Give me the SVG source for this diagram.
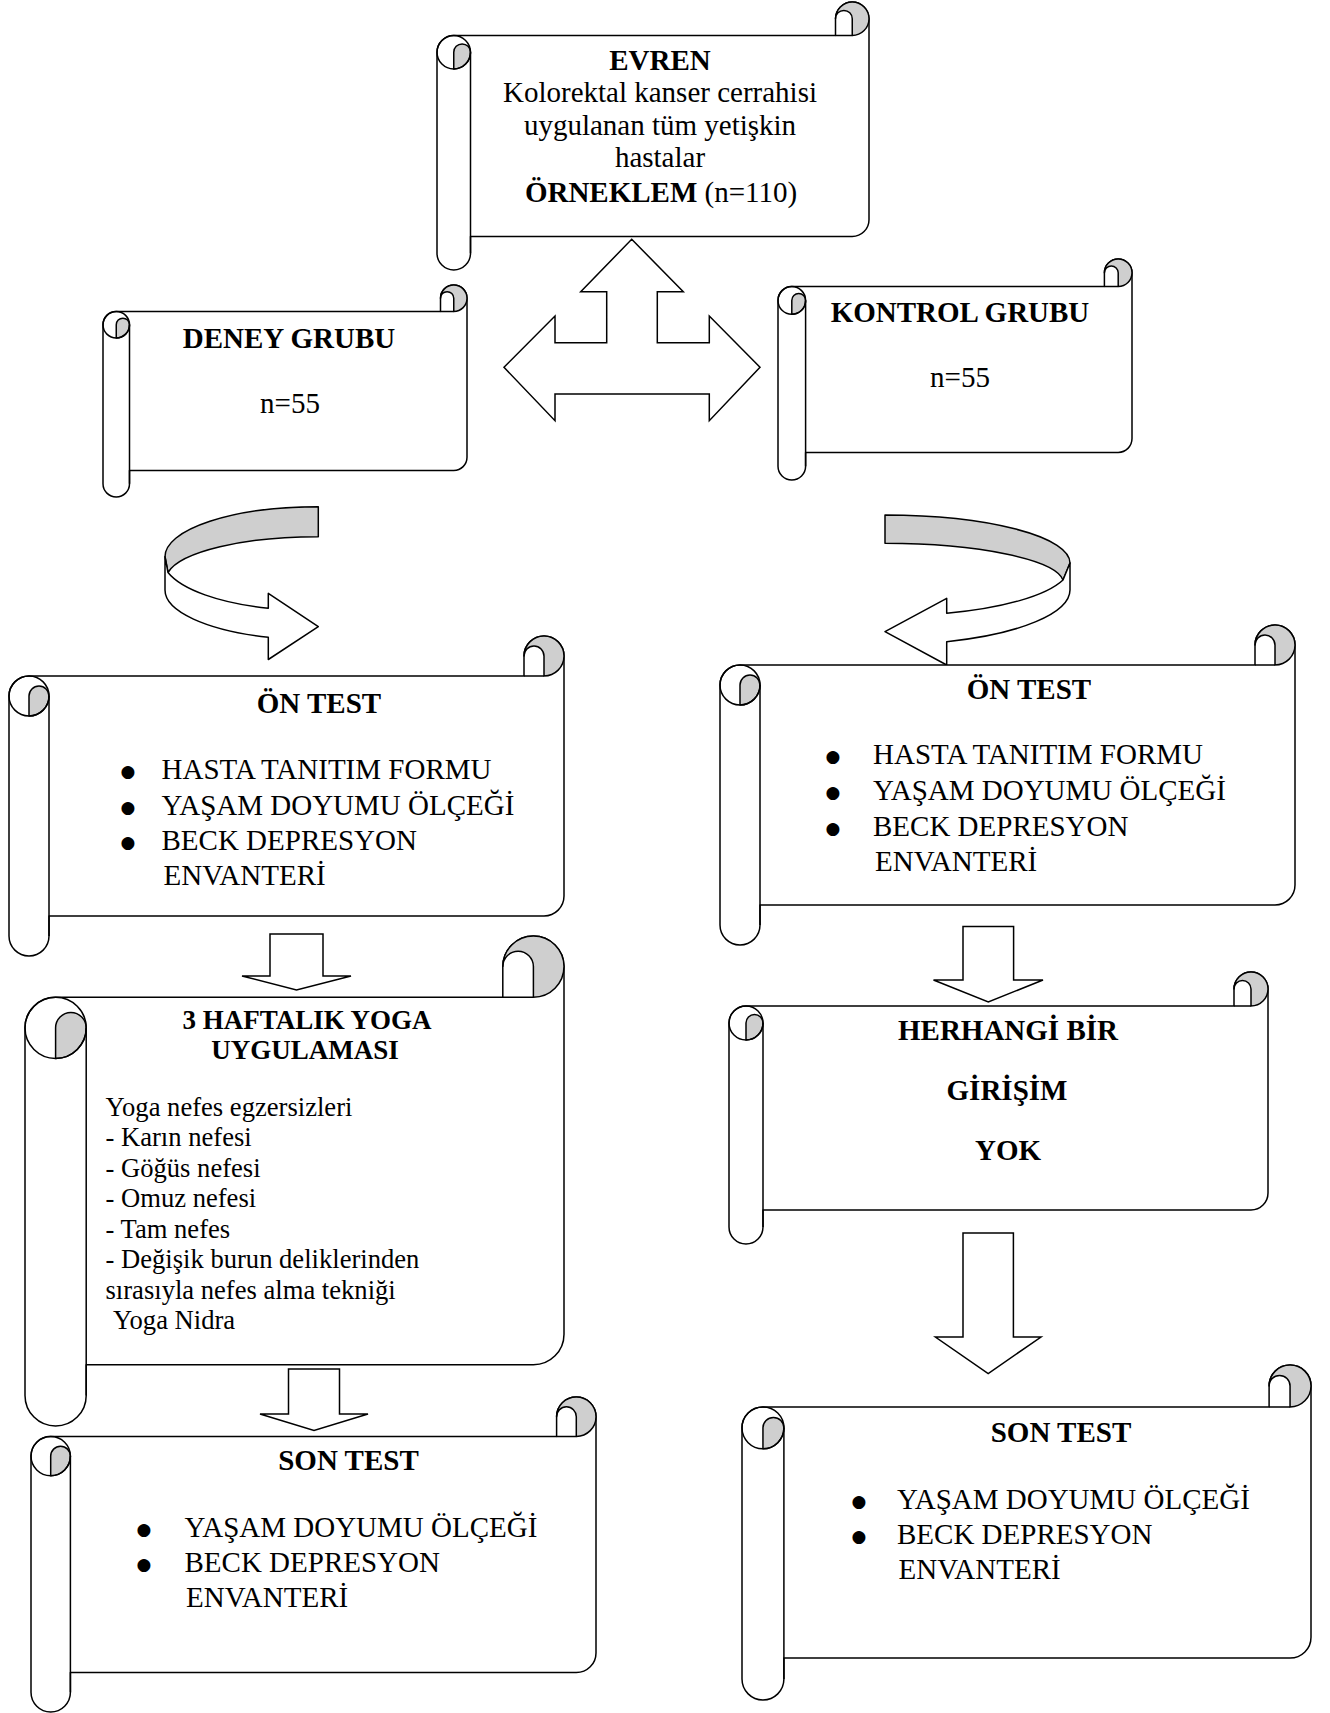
<svg xmlns="http://www.w3.org/2000/svg" width="1330" height="1713" viewBox="0 0 1330 1713">
<style>
.bg{fill:#fff}
.m{fill:#fff;stroke:#000;stroke-width:1.5;stroke-linejoin:round}
.g{fill:#cfcfcf;stroke:#000;stroke-width:1.5;stroke-linejoin:round}
.l{fill:none;stroke:#000;stroke-width:1.5}
.ar{fill:#fff;stroke:#000;stroke-width:1.5;stroke-linejoin:miter}
text{font-family:"Liberation Serif","Times New Roman",serif;font-size:29px;fill:#000}
.b{font-weight:bold}
.c{text-anchor:middle}
.s{font-size:26.6px}
.tb{font-size:27px;font-weight:bold;text-anchor:middle}
.bu{font-family:"DejaVu Sans",sans-serif;font-size:17px;text-anchor:middle}
</style>
<rect class="bg" x="0" y="0" width="1330" height="1713"/>

<g id="connectors">
  <path class="ar" d="M631.7,239.3 L683.3,291.7 L657.3,291.7 L657.3,342.7 L709.3,342.7 L709.3,316 L760,367.3 L709.3,420.7 L709.3,394 L555,394 L555,420.7 L504,367.3 L555,316 L555,342.7 L606.7,342.7 L606.7,291.7 L580.7,291.7 Z"/>
  <g id="curved-left">
    <path class="g" d="M318.3,506.7 A153 50 0 0 0 165,556.7 L168,572.5 A152 43 0 0 1 318.3,536.7 Z"/>
    <path class="m" d="M165,556.7 L165,590 A153 50 0 0 0 268.3,637.3 L268.3,659.5 L318.3,626.7 L268.3,593.3 L268.3,608.3 A150 52 0 0 1 168,572.5 Z"/>
  </g>
  <g id="curved-right">
    <path class="g" d="M885,515 A185 48 0 0 1 1070,563 L1063,580 A180 40 0 0 0 885,543.3 Z"/>
    <path class="m" d="M1070,563 L1070,590 A185 55 0 0 1 946.7,641.7 L946.7,665 L885,631.7 L946.7,598.3 L946.7,613.3 A180 50 0 0 0 1063,580 Z"/>
  </g>
  <path class="ar" d="M270,934 L323,934 L323,976 L351,976 L296.5,990 L242,976 L270,976 Z"/>
  <path class="ar" d="M288.5,1369 L339.5,1369 L339.5,1414 L368,1414 L314,1430.5 L260,1414 L288.5,1414 Z"/>
  <path class="ar" d="M963,926.5 L1013.6,926.5 L1013.6,980 L1043,980 L988.3,1002 L933.5,980 L963,980 Z"/>
  <path class="ar" d="M963,1233 L1013.4,1233 L1013.4,1337 L1041,1337 L988.2,1373.5 L935.4,1337 L963,1337 Z"/>
</g>

<g id="evren">
  <path class="m" d="M437,52.25 A16.75 16.75 0 0 1 453.75,35.5 L835.5,35.5 L835.5,18.75 A16.75 16.75 0 0 1 869,18.75 L869,219.75 A16.75 16.75 0 0 1 852.25,236.5 L470.5,236.5 L470.5,253.25 A16.75 16.75 0 0 1 437,253.25 Z"/>
  <path class="g" d="M453.75,69 L453.75,52.25 A8.375 8.375 0 0 1 470.5,52.25 A16.75 16.75 0 0 1 453.75,69 Z"/>
  <path class="g" d="M852.25,35.5 A16.75 16.75 0 0 0 869,18.75 A16.75 16.75 0 0 0 835.5,18.75 A8.375 8.375 0 0 1 852.25,18.75 Z"/>
  <path class="l" d="M470.5,52.25 L470.5,253.25 M835.5,35.5 L852.25,35.5"/>
  <circle class="l" cx="453.75" cy="52.25" r="16.75"/>
  <text class="c b" x="660" y="70">EVREN</text>
  <text class="c" x="660" y="102">Kolorektal kanser cerrahisi</text>
  <text class="c" x="660" y="134.5">uygulanan tüm yetişkin</text>
  <text class="c" x="660" y="167">hastalar</text>
  <text class="c" x="661" y="201.5"><tspan class="b">ÖRNEKLEM</tspan> (n=110)</text>
</g>

<g id="deney">
  <path class="m" d="M103,324.75 A13.25 13.25 0 0 1 116.25,311.5 L440.5,311.5 L440.5,298.25 A13.25 13.25 0 0 1 467,298.25 L467,457.25 A13.25 13.25 0 0 1 453.75,470.5 L129.5,470.5 L129.5,483.75 A13.25 13.25 0 0 1 103,483.75 Z"/>
  <path class="g" d="M116.25,338 L116.25,324.75 A6.625 6.625 0 0 1 129.5,324.75 A13.25 13.25 0 0 1 116.25,338 Z"/>
  <path class="g" d="M453.75,311.5 A13.25 13.25 0 0 0 467,298.25 A13.25 13.25 0 0 0 440.5,298.25 A6.625 6.625 0 0 1 453.75,298.25 Z"/>
  <path class="l" d="M129.5,324.75 L129.5,483.75 M440.5,311.5 L453.75,311.5"/>
  <circle class="l" cx="116.25" cy="324.75" r="13.25"/>
  <text class="c b" x="289" y="348">DENEY GRUBU</text>
  <text class="c" x="290" y="413">n=55</text>
</g>

<g id="kontrol">
  <path class="m" d="M778,300.4 A13.8 13.8 0 0 1 791.8,286.6 L1104.4,286.6 L1104.4,272.8 A13.8 13.8 0 0 1 1132,272.8 L1132,438.6 A13.8 13.8 0 0 1 1118.2,452.4 L805.6,452.4 L805.6,466.2 A13.8 13.8 0 0 1 778,466.2 Z"/>
  <path class="g" d="M791.8,314.2 L791.8,300.4 A6.9 6.9 0 0 1 805.6,300.4 A13.8 13.8 0 0 1 791.8,314.2 Z"/>
  <path class="g" d="M1118.2,286.6 A13.8 13.8 0 0 0 1132,272.8 A13.8 13.8 0 0 0 1104.4,272.8 A6.9 6.9 0 0 1 1118.2,272.8 Z"/>
  <path class="l" d="M805.6,300.4 L805.6,466.2 M1104.4,286.6 L1118.2,286.6"/>
  <circle class="l" cx="791.8" cy="300.4" r="13.8"/>
  <text class="c b" x="960" y="322">KONTROL GRUBU</text>
  <text class="c" x="960" y="387">n=55</text>
</g>

<g id="on-test-deney">
  <path class="m" d="M9,696 A20 20 0 0 1 29,676 L524,676 L524,656 A20 20 0 0 1 564,656 L564,896 A20 20 0 0 1 544,916 L49,916 L49,936 A20 20 0 0 1 9,936 Z"/>
  <path class="g" d="M29,716 L29,696 A10 10 0 0 1 49,696 A20 20 0 0 1 29,716 Z"/>
  <path class="g" d="M544,676 A20 20 0 0 0 564,656 A20 20 0 0 0 524,656 A10 10 0 0 1 544,656 Z"/>
  <path class="l" d="M49,696 L49,936 M524,676 L544,676"/>
  <circle class="l" cx="29" cy="696" r="20"/>
  <text class="c b" x="319" y="713">ÖN TEST</text>
  <text class="bu" x="128" y="777">●</text>
  <text class="bu" x="128" y="813">●</text>
  <text class="bu" x="128" y="848">●</text>
  <text x="161.5" y="779">HASTA TANITIM FORMU</text>
  <text x="161.5" y="815">YAŞAM DOYUMU ÖLÇEĞİ</text>
  <text x="161.5" y="850">BECK DEPRESYON</text>
  <text x="163.5" y="885">ENVANTERİ</text>
</g>

<g id="on-test-kontrol">
  <path class="m" d="M720,685 A20 20 0 0 1 740,665 L1255,665 L1255,645 A20 20 0 0 1 1295,645 L1295,885 A20 20 0 0 1 1275,905 L760,905 L760,925 A20 20 0 0 1 720,925 Z"/>
  <path class="g" d="M740,705 L740,685 A10 10 0 0 1 760,685 A20 20 0 0 1 740,705 Z"/>
  <path class="g" d="M1275,665 A20 20 0 0 0 1295,645 A20 20 0 0 0 1255,645 A10 10 0 0 1 1275,645 Z"/>
  <path class="l" d="M760,685 L760,925 M1255,665 L1275,665"/>
  <circle class="l" cx="740" cy="685" r="20"/>
  <text class="c b" x="1029" y="699">ÖN TEST</text>
  <text class="bu" x="833" y="762">●</text>
  <text class="bu" x="833" y="798">●</text>
  <text class="bu" x="833" y="834">●</text>
  <text x="873" y="764">HASTA TANITIM FORMU</text>
  <text x="873" y="800">YAŞAM DOYUMU ÖLÇEĞİ</text>
  <text x="873" y="836">BECK DEPRESYON</text>
  <text x="875" y="871">ENVANTERİ</text>
</g>

<g id="yoga">
  <path class="m" d="M25,1027.8 A30.6 30.6 0 0 1 55.6,997.2 L502.8,997.2 L502.8,966.6 A30.6 30.6 0 0 1 564,966.6 L564,1334.2 A30.6 30.6 0 0 1 533.4,1364.8 L86.2,1364.8 L86.2,1395.4 A30.6 30.6 0 0 1 25,1395.4 Z"/>
  <path class="g" d="M55.6,1058.4 L55.6,1027.8 A15.3 15.3 0 0 1 86.2,1027.8 A30.6 30.6 0 0 1 55.6,1058.4 Z"/>
  <path class="g" d="M533.4,997.2 A30.6 30.6 0 0 0 564,966.6 A30.6 30.6 0 0 0 502.8,966.6 A15.3 15.3 0 0 1 533.4,966.6 Z"/>
  <path class="l" d="M86.2,1027.8 L86.2,1395.4 M502.8,997.2 L533.4,997.2"/>
  <circle class="l" cx="55.6" cy="1027.8" r="30.6"/>
  <text class="tb" x="307" y="1029">3 HAFTALIK YOGA</text>
  <text class="tb" x="305" y="1059">UYGULAMASI</text>
  <text class="s" x="105.5" y="1115.5">Yoga nefes egzersizleri</text>
  <text class="s" x="105.5" y="1146">- Karın nefesi</text>
  <text class="s" x="105.5" y="1176.5">- Göğüs nefesi</text>
  <text class="s" x="105.5" y="1207">- Omuz nefesi</text>
  <text class="s" x="105.5" y="1237.5">- Tam nefes</text>
  <text class="s" x="105.5" y="1268">- Değişik burun deliklerinden</text>
  <text class="s" x="105.5" y="1298.5">sırasıyla nefes alma tekniği</text>
  <text class="s" x="113" y="1329">Yoga Nidra</text>
</g>

<g id="herhangi">
  <path class="m" d="M729,1023 A17 17 0 0 1 746,1006 L1234,1006 L1234,989 A17 17 0 0 1 1268,989 L1268,1193 A17 17 0 0 1 1251,1210 L763,1210 L763,1227 A17 17 0 0 1 729,1227 Z"/>
  <path class="g" d="M746,1040 L746,1023 A8.5 8.5 0 0 1 763,1023 A17 17 0 0 1 746,1040 Z"/>
  <path class="g" d="M1251,1006 A17 17 0 0 0 1268,989 A17 17 0 0 0 1234,989 A8.5 8.5 0 0 1 1251,989 Z"/>
  <path class="l" d="M763,1023 L763,1227 M1234,1006 L1251,1006"/>
  <circle class="l" cx="746" cy="1023" r="17"/>
  <text class="c b" x="1008" y="1040">HERHANGİ BİR</text>
  <text class="c b" x="1007" y="1100">GİRİŞİM</text>
  <text class="c b" x="1008" y="1160">YOK</text>
</g>

<g id="son-test-deney">
  <path class="m" d="M31,1456.1 A19.7 19.7 0 0 1 50.7,1436.4 L556.6,1436.4 L556.6,1416.7 A19.7 19.7 0 0 1 596,1416.7 L596,1652.9 A19.7 19.7 0 0 1 576.3,1672.6 L70.4,1672.6 L70.4,1692.3 A19.7 19.7 0 0 1 31,1692.3 Z"/>
  <path class="g" d="M50.7,1475.8 L50.7,1456.1 A9.85 9.85 0 0 1 70.4,1456.1 A19.7 19.7 0 0 1 50.7,1475.8 Z"/>
  <path class="g" d="M576.3,1436.4 A19.7 19.7 0 0 0 596,1416.7 A19.7 19.7 0 0 0 556.6,1416.7 A9.85 9.85 0 0 1 576.3,1416.7 Z"/>
  <path class="l" d="M70.4,1456.1 L70.4,1692.3 M556.6,1436.4 L576.3,1436.4"/>
  <circle class="l" cx="50.7" cy="1456.1" r="19.7"/>
  <text class="c b" x="348.5" y="1470">SON TEST</text>
  <text class="bu" x="144" y="1535">●</text>
  <text class="bu" x="144" y="1570">●</text>
  <text x="184.5" y="1537">YAŞAM DOYUMU ÖLÇEĞİ</text>
  <text x="184.5" y="1572">BECK DEPRESYON</text>
  <text x="186" y="1607">ENVANTERİ</text>
</g>

<g id="son-test-kontrol">
  <path class="m" d="M742,1427.85 A20.95 20.95 0 0 1 762.95,1406.9 L1269.1,1406.9 L1269.1,1385.95 A20.95 20.95 0 0 1 1311,1385.95 L1311,1637.15 A20.95 20.95 0 0 1 1290.05,1658.1 L783.9,1658.1 L783.9,1679.05 A20.95 20.95 0 0 1 742,1679.05 Z"/>
  <path class="g" d="M762.95,1448.8 L762.95,1427.85 A10.475 10.475 0 0 1 783.9,1427.85 A20.95 20.95 0 0 1 762.95,1448.8 Z"/>
  <path class="g" d="M1290.05,1406.9 A20.95 20.95 0 0 0 1311,1385.95 A20.95 20.95 0 0 0 1269.1,1385.95 A10.475 10.475 0 0 1 1290.05,1385.95 Z"/>
  <path class="l" d="M783.9,1427.85 L783.9,1679.05 M1269.1,1406.9 L1290.05,1406.9"/>
  <circle class="l" cx="762.95" cy="1427.85" r="20.95"/>
  <text class="c b" x="1061" y="1442">SON TEST</text>
  <text class="bu" x="859" y="1507">●</text>
  <text class="bu" x="859" y="1542">●</text>
  <text x="897" y="1509">YAŞAM DOYUMU ÖLÇEĞİ</text>
  <text x="897" y="1544">BECK DEPRESYON</text>
  <text x="898.5" y="1579">ENVANTERİ</text>
</g>
</svg>
